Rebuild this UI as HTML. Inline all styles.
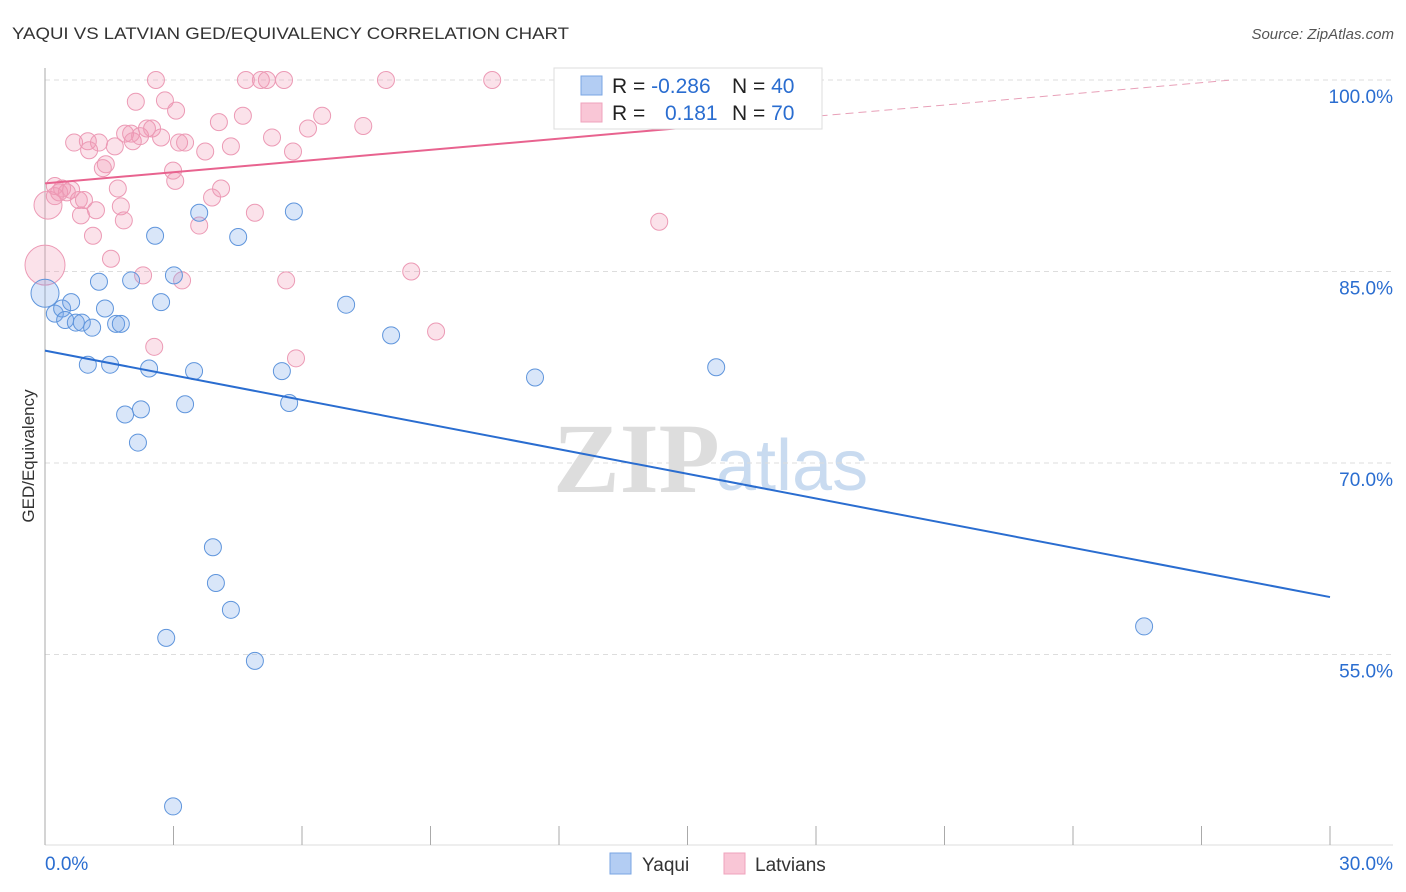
<!DOCTYPE html>
<html><head><meta charset="utf-8"><style>
body{margin:0;background:#fff;font-family:"Liberation Sans",sans-serif;}
svg{display:block}
</style></head><body>
<svg id="chart" width="1406" height="892">
<text x="12" y="39" font-size="17" fill="#333" textLength="557" lengthAdjust="spacingAndGlyphs">YAQUI VS LATVIAN GED/EQUIVALENCY CORRELATION CHART</text>
<text x="1394" y="39" font-size="15" fill="#555" text-anchor="end" font-style="italic">Source: ZipAtlas.com</text>
<g>
<text x="553" y="492" font-size="100" font-family="Liberation Serif,serif" font-weight="bold" fill="#ddd">ZIP</text>
<text x="716" y="490" font-size="72" fill="#c9dbf0">atlas</text>
</g>
<g id="grid"></g><g id="axes"></g><g id="marks"></g>
<text transform="translate(34,456) rotate(-90)" font-size="17" fill="#333" text-anchor="middle">GED/Equivalency</text>
<g>
<rect x="554" y="68" width="268" height="61" fill="#fff" stroke="#ddd"/>
<rect x="581" y="76" width="21" height="19" fill="#b3cdf3" stroke="#7aa5e3"/>
<rect x="581" y="103" width="21" height="19" fill="#f9c6d6" stroke="#efa3bc"/>
<text x="612" y="93" font-size="21" fill="#222">R = <tspan fill="#2a6dd0">-0.286</tspan></text>
<text x="732" y="93" font-size="21" fill="#222">N = <tspan fill="#2a6dd0">40</tspan></text>
<text x="612" y="120" font-size="21" fill="#222">R = <tspan fill="#2a6dd0" x="665">0.181</tspan></text>
<text x="732" y="120" font-size="21" fill="#222">N = <tspan fill="#2a6dd0">70</tspan></text>
</g>
<g>
<rect x="610" y="853" width="21" height="21" fill="#b3cdf3" stroke="#7aa5e3"/>
<text x="642" y="871" font-size="19" fill="#333">Yaqui</text>
<rect x="724" y="853" width="21" height="21" fill="#f9c6d6" stroke="#efa3bc"/>
<text x="755" y="871" font-size="19" fill="#333">Latvians</text>
</g>
</svg>
<script>
const yTicks=[100,85,70,55];
const yTickLabels=["100.0%","85.0%","70.0%","55.0%"];
const xTickLabels=["0.0%","30.0%"];
const blueX=[0,0.23,0.40,0.47,0.61,0.72,0.86,1.10,1.00,1.26,1.40,1.52,1.66,1.77,1.87,2.01,2.17,2.24,2.43,2.57,2.71,2.83,3.01,2.99,3.27,3.48,3.60,3.92,3.99,4.34,4.51,4.90,5.53,5.70,5.81,7.03,8.08,11.44,15.67,25.66];
const blueY=[83.3,81.7,82.1,81.2,82.6,81.0,81.0,80.6,77.7,84.2,82.1,77.7,80.9,80.9,73.8,84.3,71.6,74.2,77.4,87.8,82.6,56.3,84.7,43.1,74.6,77.2,89.6,63.4,60.6,58.5,87.7,54.5,77.2,74.7,89.7,82.4,80.0,76.7,77.5,57.2];
const pinkX=[0,0.07,2.59,4.69,5.04,5.18,5.58,7.96,10.44,2.12,2.80,3.06,4.62,4.06,6.47,6.14,7.43,5.30,4.34,3.74,5.79,0.68,1.00,1.26,1.03,1.42,1.35,1.63,1.87,2.01,2.05,2.22,2.38,2.50,2.71,3.13,3.27,2.99,3.04,1.70,1.77,1.84,1.19,0.84,0.79,0.51,0.33,0.23,0.40,0.61,0.91,0.23,1.12,1.54,2.29,3.20,2.55,3.60,3.90,4.11,4.90,5.63,5.86,8.55,9.13,14.34];
const pinkY=[85.5,90.2,100,100,100,100,100,100,100,98.3,98.4,97.6,97.2,96.7,97.2,96.2,96.4,95.5,94.8,94.4,94.4,95.1,95.2,95.1,94.5,93.4,93.1,94.8,95.8,95.8,95.2,95.6,96.2,96.2,95.5,95.1,95.1,92.9,92.1,91.5,90.1,89.0,89.8,89.4,90.6,91.2,91.2,91.7,91.5,91.4,90.6,90.9,87.8,86.0,84.7,84.3,79.1,88.6,90.8,91.5,89.6,84.3,78.2,85.0,80.3,88.9];
const pinkR=[20,14];
const blueR=[14];
const blueTrend=[78.8,59.5];
const pinkTrend=[91.9,100.67];
const pinkSolidEnd=15.06;

const NS="http://www.w3.org/2000/svg";
const X=v=>45+v/30*1285;
const Y=v=>80+(100-v)/15*191.5;
function mk(tag,attrs,parent){const e=document.createElementNS(NS,tag);for(const k in attrs)e.setAttribute(k,attrs[k]);document.getElementById(parent).appendChild(e);return e;}
yTicks.forEach((t,i)=>{
  const l=mk('line',{x1:45,x2:1393,y1:Y(t),y2:Y(t),stroke:'#ddd','stroke-dasharray':'5,4'},'grid');
  
  
  const tx=mk('text',{x:1393,y:Y(t)+23,'font-size':19,fill:'#2a6dd0','text-anchor':'end'},'axes');
  tx.textContent=yTickLabels[i];
  
  
});
const ya=mk('line',{x1:45,x2:45,y1:68,y2:845,stroke:'#aaa'},'axes');


const xa=mk('line',{x1:45,x2:1393,y1:845,y2:845,stroke:'#ddd'},'axes');


for(let i=0;i<=10;i++){
  const t=mk('line',{x1:X(i*3),x2:X(i*3),y1:826,y2:845,stroke:'#aaa'},'axes');
  
  
}
[[0,'start',45],[30,'end',1393]].forEach((d,i)=>{
  const tx=mk('text',{x:d[2],y:870,'font-size':19,fill:'#2a6dd0','text-anchor':d[1]},'axes');
  tx.textContent=xTickLabels[i];
  
  
});
pinkX.forEach((x,i)=>{
  const c=mk('circle',{cx:X(x),cy:Y(pinkY[i]),r:pinkR[i]||8.5,fill:'rgba(242,150,180,0.28)',stroke:'#ec9ab5','stroke-width':1},'marks');
  
  
});
blueX.forEach((x,i)=>{
  const c=mk('circle',{cx:X(x),cy:Y(blueY[i]),r:blueR[i]||8.5,fill:'rgba(120,165,235,0.28)',stroke:'#5f95dc','stroke-width':1},'marks');
  
  
});
const bt=mk('line',{x1:X(0),y1:Y(blueTrend[0]),x2:X(30),y2:Y(blueTrend[1]),stroke:'#2a6dd0','stroke-width':2},'marks');


const pAt=x=>pinkTrend[0]+(pinkTrend[1]-pinkTrend[0])*x/30;
const pe=pAt(pinkSolidEnd);
const pt=mk('line',{x1:X(0),y1:Y(pinkTrend[0]),x2:X(pinkSolidEnd),y2:Y(pe),stroke:'#e8638f','stroke-width':2},'marks');


const xEnd=Math.min(30,30*(100-pinkTrend[0])/(pinkTrend[1]-pinkTrend[0]));
const pd=mk('line',{x1:X(pinkSolidEnd),y1:Y(pe),x2:X(xEnd),y2:Y(pAt(xEnd)),stroke:'#e8a0b8','stroke-width':1,'stroke-dasharray':'8,5'},'marks');


</script>
</body></html>
